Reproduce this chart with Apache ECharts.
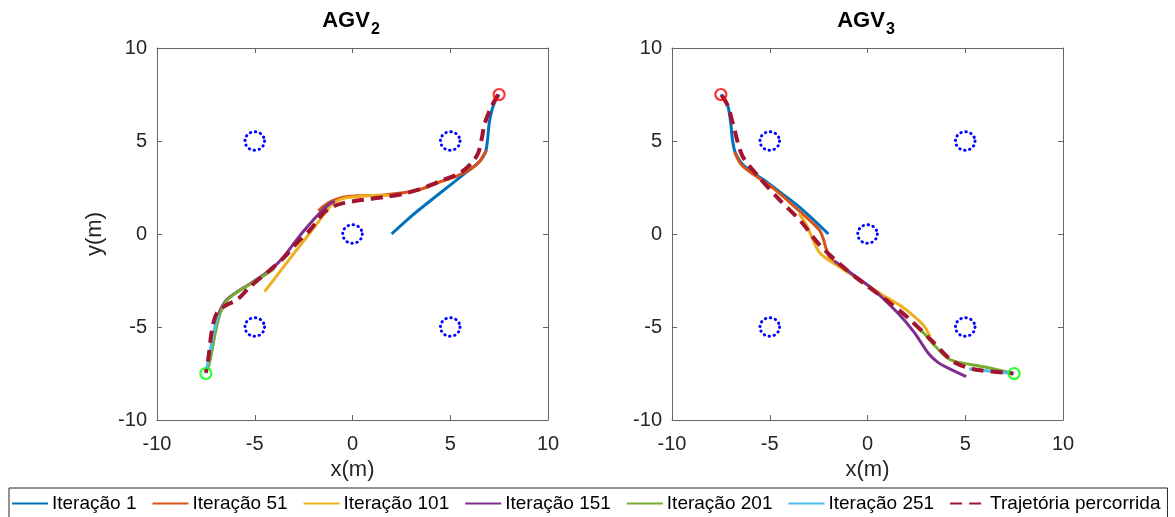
<!DOCTYPE html>
<html>
<head>
<meta charset="utf-8">
<title>AGV</title>
<script src="https://cdn.jsdelivr.net/npm/echarts@6/dist/echarts.min.js"></script>
<style>
  html, body { margin: 0; padding: 0; background: #fff; }
  #chart { width: 1175px; height: 517px; }
</style>
</head>
<body>
<div id="chart"></div>
<script>
// Axis range and ticks (both panels)
const axisMin = -10;
const axisMax = 10;
const tickStep = 5;

// Legend names
const seriesNames = ['Iteração 1', 'Iteração 51', 'Iteração 101', 'Iteração 151',
  'Iteração 201', 'Iteração 251', 'Trajetória percorrida'];
const seriesColors = ['#0072BD', '#D95319', '#EDB120', '#7E2F8E', '#77AC30', '#4DBEEE', '#A2142F'];

// Obstacles: centres and radius (m)
const obstacles = [[-5, 5], [5, 5], [0, 0], [-5, -5], [5, -5]];
const obstacleRadius = 0.5;

// AGV2: start / goal
const agv2Start = [7.5, 7.5];
const agv2Goal = [-7.5, -7.5];

// AGV2 predicted paths
const agv2It1 = [[7.5, 7.5], [7.2, 6.9], [7.0, 6.0], [6.9, 5.0], [6.8, 4.4], [6.5, 3.9], [5.8, 3.3], [4.9, 2.55], [4.0, 1.8], [3.0, 0.95], [2.0, 0.0]];
const agv2It51 = [[6.85, 4.5], [6.5, 3.9], [6.0, 3.45], [5.3, 3.1], [4.6, 2.85], [3.3, 2.35], [1.6, 2.1], [0.2, 2.05], [-0.5, 1.98], [-1.1, 1.75], [-1.5, 1.48], [-1.75, 1.25]];
const agv2It101 = [[2.2, 2.08], [1.0, 2.07], [0.2, 2.0], [-0.5, 1.9], [-1.0, 1.65], [-1.35, 1.2], [-2.0, 0.3], [-3.0, -1.05], [-3.75, -2.08], [-4.5, -3.1]];
const agv2It151 = [[-0.9, 1.75], [-1.2, 1.6], [-1.7, 1.1], [-2.3, 0.4], [-2.85, -0.3], [-3.5, -1.2], [-4.0, -1.75], [-4.7, -2.3], [-5.4, -2.78], [-6.0, -3.18], [-6.45, -3.55], [-6.7, -3.95], [-6.85, -4.3]];
const agv2It201 = [[-4.0, -1.85], [-4.7, -2.35], [-5.4, -2.8], [-6.0, -3.2], [-6.45, -3.6], [-6.77, -4.26], [-7.02, -5.34], [-7.28, -6.77], [-7.4, -7.25]];
const agv2It251 = [[-6.85, -4.3], [-7.0, -4.8], [-7.15, -5.5], [-7.3, -6.4], [-7.45, -7.2], [-7.5, -7.5]];
const agv2Path = [[7.45, 7.5], [7.11, 6.86], [6.77, 5.96], [6.6, 5.07], [6.43, 4.35], [6.09, 3.81], [5.49, 3.27], [4.64, 2.91], [3.62, 2.47], [2.6, 2.16], [1.57, 1.98], [0.55, 1.84], [-0.47, 1.66], [-0.98, 1.48], [-1.49, 1.12], [-2.17, 0.22], [-2.85, -0.49], [-3.53, -1.3], [-4.21, -1.93], [-5.23, -2.83], [-5.91, -3.54], [-6.43, -3.81], [-6.94, -4.26], [-7.19, -5.16], [-7.36, -6.59], [-7.5, -7.45]];

// AGV3: start / goal
const agv3Start = [-7.5, 7.5];
const agv3Goal = [7.5, -7.5];

// AGV3 predicted paths
const agv3It1 = [[-7.5, 7.5], [-7.15, 6.9], [-7.0, 6.0], [-6.9, 5.0], [-6.75, 4.35], [-6.3, 3.65], [-5.3, 2.9], [-4.45, 2.23], [-3.6, 1.55], [-2.8, 0.8], [-2.0, 0.0]];
const agv3It51 = [[-6.8, 4.4], [-6.45, 3.72], [-5.8, 3.18], [-4.75, 2.4], [-3.55, 1.3], [-2.8, 0.58], [-2.42, 0.15], [-2.25, -0.3], [-2.1, -0.85], [-1.95, -1.25], [-1.7, -1.48]];
const agv3It101 = [[-3.5, 1.1], [-3.1, 0.45], [-2.8, -0.3], [-2.45, -1.0], [-1.95, -1.43], [-1.2, -1.93], [-0.15, -2.65], [0.9, -3.36], [1.75, -3.9], [2.4, -4.44], [2.9, -4.95], [3.2, -5.5]];
const agv3It151 = [[-1.7, -1.45], [-0.85, -2.1], [0.2, -2.9], [1.55, -4.25], [2.4, -5.3], [3.1, -6.4], [3.6, -6.9], [4.1, -7.2], [5.05, -7.67]];
const agv3It201 = [[2.35, -4.8], [2.9, -5.35], [3.35, -5.9], [3.95, -6.55], [4.45, -6.85], [6.0, -7.15], [7.45, -7.5]];
const agv3It251 = [[5.2, -7.25], [6.3, -7.38], [7.5, -7.5]];
const agv3Path = [[-7.45, 7.45], [-7.15, 6.9], [-6.85, 5.8], [-6.4, 4.2], [-5.5, 3.0], [-4.5, 1.84], [-3.4, 0.67], [-2.5, -0.53], [-1.37, -1.66], [-0.2, -2.65], [1.0, -3.58], [2.1, -4.53], [3.25, -5.7], [4.3, -6.8], [5.0, -7.15], [5.65, -7.31], [7.0, -7.45], [7.45, -7.5]];

const FONT = 'Liberation Sans, Arial, Helvetica, sans-serif';
const AXIS_COLOR = '#666';
const TEXT_COLOR = '#262626';

const chart = echarts.init(document.getElementById('chart'), null, { renderer: 'canvas' });

const grids = [
  { left: 157, top: 48, width: 391, height: 372 },
  { left: 672, top: 48, width: 391, height: 372 }
];

const tickStyle = { show: true, inside: true, length: 5, lineStyle: { color: AXIS_COLOR } };
const lineStyleAxis = { show: true, onZero: false, lineStyle: { color: AXIS_COLOR, width: 1 } };

function mainX(gridIndex) {
  return {
    type: 'value', gridIndex, min: axisMin, max: axisMax, interval: tickStep, position: 'bottom',
    name: 'x(m)', nameLocation: 'middle', nameGap: 37,
    nameTextStyle: { fontFamily: FONT, fontSize: 22, color: TEXT_COLOR },
    axisLine: lineStyleAxis, axisTick: tickStyle,
    axisLabel: { fontFamily: FONT, fontSize: 20, color: TEXT_COLOR, margin: 14 },
    splitLine: { show: false }
  };
}
function boxX(gridIndex) {
  return {
    type: 'value', gridIndex, min: axisMin, max: axisMax, interval: tickStep, position: 'top',
    axisLine: lineStyleAxis, axisTick: tickStyle,
    axisLabel: { show: false }, splitLine: { show: false }
  };
}
function mainY(gridIndex, withName) {
  return {
    type: 'value', gridIndex, min: axisMin, max: axisMax, interval: tickStep, position: 'left',
    name: withName ? 'y(m)' : '', nameLocation: 'middle', nameGap: 51,
    nameTextStyle: { fontFamily: FONT, fontSize: 22, color: TEXT_COLOR },
    axisLine: lineStyleAxis, axisTick: tickStyle,
    axisLabel: { fontFamily: FONT, fontSize: 20, color: TEXT_COLOR, margin: 10 },
    splitLine: { show: false }
  };
}
function boxY(gridIndex) {
  return {
    type: 'value', gridIndex, min: axisMin, max: axisMax, interval: tickStep, position: 'right',
    axisLine: lineStyleAxis, axisTick: tickStyle,
    axisLabel: { show: false }, splitLine: { show: false }
  };
}

function pathSeries(name, data, colorIndex, xi, yi, dashed) {
  return {
    name, type: 'line', data, xAxisIndex: xi, yAxisIndex: yi,
    smooth: 0.3, symbol: 'none', clip: true,
    color: seriesColors[colorIndex],
    lineStyle: dashed
      ? { color: seriesColors[colorIndex], width: 4, type: [12, 7] }
      : { color: seriesColors[colorIndex], width: 3 },
    z: dashed ? 4 : 3
  };
}

function obstacleSeries(xi, yi) {
  return {
    type: 'custom', xAxisIndex: xi, yAxisIndex: yi, data: obstacles, silent: true, z: 5,
    renderItem(params, api) {
      const c = api.coord([api.value(0), api.value(1)]);
      const rx = api.size([obstacleRadius, 0])[0];
      const ry = api.size([0, obstacleRadius])[1];
      return {
        type: 'circle', x: c[0], y: c[1], scaleY: ry / rx,
        shape: { cx: 0, cy: 0, r: rx },
        style: { fill: null, stroke: '#0000FF', lineWidth: 3, lineDash: [0.5, 4.65], lineCap: 'round' }
      };
    }
  };
}

function endpointSeries(point, color, xi, yi) {
  return {
    type: 'scatter', xAxisIndex: xi, yAxisIndex: yi, data: [point], silent: true, z: 6,
    symbol: 'circle', symbolSize: 11,
    itemStyle: { color: 'rgba(0,0,0,0)', borderColor: color, borderWidth: 2.2 }
  };
}

function panel(paths, start, goal, xi, yi) {
  const list = [];
  paths.forEach((d, i) => list.push(pathSeries(seriesNames[i], d, i, xi, yi, i === paths.length - 1)));
  list.push(obstacleSeries(xi, yi));
  list.push(endpointSeries(start, '#FF0000', xi, yi));
  list.push(endpointSeries(goal, '#00FF00', xi, yi));
  return list;
}

const titleRich = {
  a: { fontFamily: FONT, fontSize: 22, fontWeight: 'bold', color: '#000', verticalAlign: 'top', lineHeight: 24 },
  b: { fontFamily: FONT, fontSize: 16, fontWeight: 'bold', color: '#000', verticalAlign: 'top', padding: [12, 0, 0, 1] }
};

const option = {
  backgroundColor: '#fff',
  animation: false,
  title: [
    { text: '{a|AGV}{b|2}', left: 346, top: 5, textAlign: 'center', textStyle: { rich: titleRich } },
    { text: '{a|AGV}{b|3}', left: 861, top: 5, textAlign: 'center', textStyle: { rich: titleRich } }
  ],
  legend: {
    data: seriesNames,
    left: 9, top: 488,
    orient: 'horizontal',
    itemWidth: 36, itemHeight: 14, itemGap: 15,
    padding: [6, 7, 12, 2],
    borderColor: '#262626', borderWidth: 1,
    itemStyle: { opacity: 0 },
    textStyle: { fontFamily: FONT, fontSize: 19, color: '#000', padding: [0, 0, 0, -1] }
  },
  grid: grids,
  xAxis: [mainX(0), boxX(0), mainX(1), boxX(1)],
  yAxis: [mainY(0, true), boxY(0), mainY(1, false), boxY(1)],
  series: [
    ...panel([agv2It1, agv2It51, agv2It101, agv2It151, agv2It201, agv2It251, agv2Path], agv2Start, agv2Goal, 0, 0),
    ...panel([agv3It1, agv3It51, agv3It101, agv3It151, agv3It201, agv3It251, agv3Path], agv3Start, agv3Goal, 2, 2)
  ]
};

chart.setOption(option);
</script>
</body>
</html>
